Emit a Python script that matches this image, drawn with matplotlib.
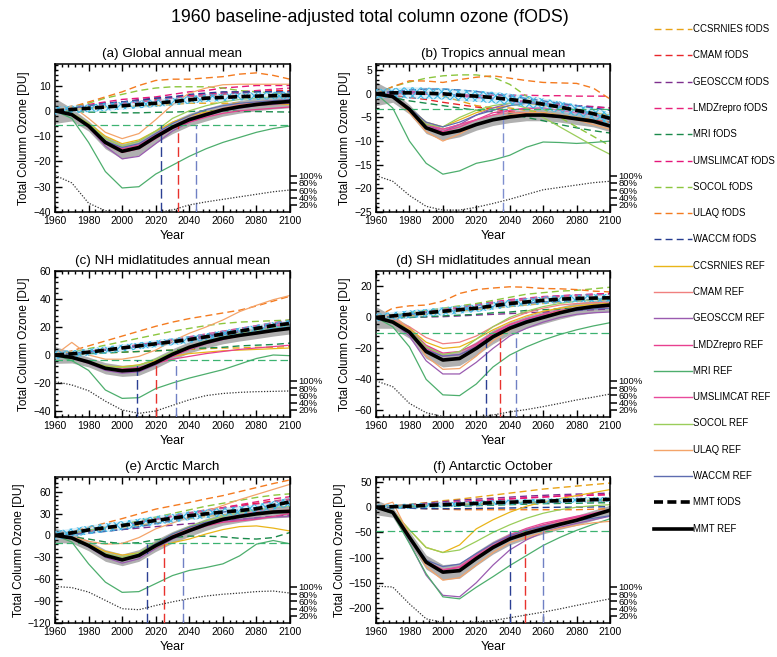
import matplotlib
matplotlib.use('Agg')
import matplotlib.pyplot as plt
from matplotlib.ticker import MultipleLocator

plt.rcParams['font.family'] = ['Liberation Sans', 'DejaVu Sans']
plt.rcParams['hatch.linewidth'] = 0.8

YEARS = [1960, 1970, 1980, 1990, 2000, 2010, 2020, 2030, 2040, 2050, 2060, 2070, 2080, 2090, 2100]
MODELS = ['CCSRNIES', 'CMAM', 'GEOSCCM', 'LMDZrepro', 'MRI', 'UMSLIMCAT', 'SOCOL', 'ULAQ', 'WACCM']
FODS_COLORS = ['#e8a317', '#e8262a', '#7e2f8e', '#e7217a', '#1a8a4b', '#e5157a', '#8cc63e', '#f47b20', '#263d90']
REF_COLORS = ['#e9b519', '#f0807f', '#9a5bb0', '#e8408f', '#4dae6d', '#e84a9b', '#9acd5a', '#f4a46a', '#5e6cb0']
RETURN_COLORS = ['#2b3f93', '#e8322d', '#7080c4']

# (a) global annual mean
GLOBAL_FODS = [
    [0, 0.5, 1, 1.5, 1.5, 2, 2, 2.5, 3, 3, 3, 3, 3, 3, 3],
    [0, 1, 2, 3, 3.5, 4, 4.5, 5, 5.5, 6, 6.5, 7, 7.5, 8, 8],
    [0, 1, 2, 3, 3.5, 4.5, 5, 5.5, 6, 6.5, 7, 7, 7.5, 7.5, 7.5],
    [0, 1, 2, 2.5, 3, 3.5, 4, 5, 6, 6.5, 7, 7.5, 8, 8.5, 9],
    [0, -0.3, -0.5, -0.6, -0.8, -0.8, -0.6, -0.5, -0.3, 0, 0, -0.2, -0.3, -0.4, -0.5],
    [0, 1.5, 2.5, 3.5, 4.5, 5, 5.5, 6.5, 7.5, 8, 9, 9.5, 10, 10, 10],
    [0, 1.5, 3, 5, 6.5, 8, 9, 9.5, 9.5, 9.5, 9, 8, 7.5, 7, 6.5],
    [0, 1.5, 3.5, 5.5, 7.5, 10, 12, 12.5, 12.5, 13, 13.5, 14.5, 15, 14, 12.5],
    [0, 1, 2, 3, 3.5, 4, 5, 5.5, 6.5, 7, 7.5, 7.5, 7.5, 7.5, 7.5],
]
GLOBAL_REF = [
    [0, -1, -5, -10, -13, -11.5, -8, -4.5, -2, -0.5, 0.5, 1.5, 2, 2.5, 2.5],
    [0, -1.5, -6, -12.5, -15.5, -14, -10, -6.5, -3.5, -1, 1, 2.5, 3.5, 4, 4.5],
    [0, -1.5, -6.5, -14, -19, -18, -13, -8, -4.5, -2, 0, 1, 2, 2.5, 3],
    [0, -1.5, -6.5, -13, -16.5, -15, -11, -7, -4.5, -2.5, -1, 0, 0.5, 1, 1.5],
    [0, -3, -12.5, -24, -30.5, -30, -25, -21.5, -18, -15, -12.5, -10.5, -8.5, -7, -6],
    [0, -1.5, -6, -12, -15, -13.5, -9.5, -6, -3, -1, 0.5, 1.5, 2.5, 3, 3.5],
    [0, -1, -5, -11, -14, -12, -8, -3, 0, 2, 3.5, 4.5, 5, 5.5, 6],
    [0, 2, -3, -8.5, -11, -9, -3.5, 2.4, 7, 9, 10.3, 10.5, 10.5, 10.5, 10.5],
    [0, -1.5, -6, -12, -14.5, -13, -9, -5, -2, 0.5, 2, 3, 3.5, 4, 4.5],
]
GLOBAL_MMT_REF = [0, -1.5, -6, -12.5, -16, -14.5, -10.3, -6.5, -3.5, -1.5, 0.4, 1.6, 2.5, 3.2, 3.7]
GLOBAL_SD_REF = [5, 2.5, 2, 2.5, 3, 3, 2.5, 2.5, 2.5, 2.5, 2.5, 2.5, 2.5, 2.5, 2.5]
GLOBAL_MMT_FODS = [0, 0.5, 1, 1.5, 2, 2.5, 3, 3.6, 4.3, 5, 5.3, 5.6, 5.8, 6, 6.1]
GLOBAL_SD_FODS = [1.5, 1.5, 1.5, 1.5, 1.5, 1.5, 1.5, 1.5, 1.5, 1.5, 1.5, 1.5, 1.5, 1.5, 1.5]
GLOBAL_EESC = [-25.5, -28.5, -36.5, -39.5, -40.3, -40.5, -40.3, -39.2, -37.2, -36, -35, -34, -33, -32, -31.3]
GLOBAL_LEVEL = -5.6
GLOBAL_RETURN = [2023, 2033, 2044]

# (b) tropics annual mean
TROPICS_FODS = [
    [0, 0.3, 0.5, 0.3, -0.5, -1.5, -2.5, -3, -3, -3.5, -4, -4.5, -5, -5.5, -6],
    [0, -0.3, -0.8, -1.2, -1.8, -2.3, -2.8, -3.2, -3.8, -4.2, -4.6, -5, -5.3, -5.5, -6],
    [0, 0.3, 0.3, 0.2, 0, -0.3, -0.6, -1, -1.4, -1.8, -2, -2.2, -2.5, -2.7, -3],
    [0, 0, 0, -0.1, -0.2, -0.2, -0.3, -0.3, -0.3, -0.3, -0.4, -0.4, -0.5, -0.5, -0.5],
    [0, -0.8, -1.5, -2, -2.5, -3, -3.5, -3.8, -4.2, -5, -5.7, -6.5, -7.2, -7.8, -8.3],
    [0, 0.5, 0.5, 0.3, 0, -0.5, -0.8, -1, -1.3, -1.6, -2, -2.3, -2.5, -2.8, -3],
    [0, 1.5, 2.5, 3.3, 3.8, 4, 4, 3.5, 2, -0.5, -3.2, -5, -7, -9, -11],
    [0, 1.5, 2.75, 2.7, 2.4, 3, 3.5, 3.8, 3.3, 2.8, 2.4, 2.3, 2.2, 1.2, -1.1],
    [0, 0.5, 0.8, 1, 1, 0.8, 0.5, 0, -0.5, -1, -1.5, -2, -2.5, -3, -3.5],
]
TROPICS_REF = [
    [0, -0.5, -3, -6, -7, -5.5, -4, -3, -2.5, -2, -2.5, -3, -3.5, -4, -4.5],
    [0, -0.5, -3, -6.5, -7.5, -6.5, -5.5, -4.5, -4, -4, -4.5, -5, -5.5, -6, -7],
    [0, -0.5, -3, -6.5, -8, -6.5, -4.5, -3, -2, -1.8, -2, -2.5, -3.5, -4.5, -5.5],
    [0, -0.5, -3.5, -7, -8, -7, -5.5, -4, -3.5, -3.2, -3, -3.5, -4, -4.5, -5],
    [0, -3, -10, -14.7, -17, -16.3, -14.7, -14, -13, -11.3, -10.2, -10.3, -10.5, -10.3, -10],
    [0, -0.5, -3, -6.5, -7.5, -6.5, -5.5, -4.5, -3.5, -3, -3, -3.5, -4, -4.5, -5.5],
    [0, -0.5, -3, -6.5, -7, -5, -3.5, -2.5, -2, -3, -5, -7, -9, -11, -12.8],
    [0, -0.5, -4, -8, -10, -8.5, -6.5, -5.5, -4.5, -4, -4, -4.5, -5.5, -6.5, -7.5],
    [0, -0.5, -3, -6, -7, -6, -4.5, -3.5, -2.5, -2, -2.2, -2.8, -3.5, -4.2, -5],
]
TROPICS_MMT_REF = [0, -0.6, -3.3, -7.2, -8.5, -7.8, -6.5, -5.5, -4.9, -4.5, -4.5, -4.8, -5.3, -5.8, -6.8]
TROPICS_SD_REF = [2.5, 1.2, 1, 1.2, 1.3, 1.3, 1.2, 1.2, 1.2, 1.2, 1.2, 1.2, 1.2, 1.2, 1.2]
TROPICS_MMT_FODS = [0, 0.2, 0.2, 0.1, 0, -0.3, -0.5, -0.8, -1.2, -1.6, -2.2, -2.8, -3.5, -4.2, -5.2]
TROPICS_SD_FODS = [1, 1, 1.2, 1.2, 1.2, 1.2, 1.2, 1.2, 1.2, 1.2, 1.2, 1.2, 1.2, 1.2, 1.2]
TROPICS_EESC = [-17.3, -18.5, -21.5, -23.8, -24.6, -24.6, -24, -23.2, -22.3, -21.3, -20.3, -19.8, -19.3, -18.8, -18.5]
TROPICS_LEVEL = -3.2
TROPICS_RETURN = [None, None, 2036]

# (c) NH midlatitudes annual mean
NHMID_FODS = [
    [0, 0.5, 1, 1.5, 2, 2.5, 3, 3.5, 4, 4.5, 5, 5, 5.5, 5.5, 6],
    [0, 1, 2.5, 4, 5.5, 7, 8.5, 10, 11.5, 13.5, 15.5, 17.5, 19.5, 21.5, 23],
    [0, 1, 2.5, 3.5, 5, 6.5, 8, 10, 12, 14, 16, 18, 20, 22, 24],
    [0, 1, 2.5, 4, 5.5, 7.5, 9, 11, 13, 15, 17, 19, 21, 23, 25],
    [0, 0.5, 1, 1.5, 2, 2.5, 3, 3.5, 4.5, 5, 5.5, 6.5, 7, 7.5, 8.5],
    [0, 1, 2, 3.5, 5, 6, 7.5, 9, 10.5, 12.5, 14.5, 16.5, 18.5, 20.5, 22],
    [0, 2, 4.5, 7, 9.5, 12, 14.5, 17, 19, 21, 22.5, 23.5, 24, 24.5, 25],
    [0, 3, 6.5, 10, 13.5, 17, 20.5, 23.5, 26, 28, 30, 32, 35, 38.5, 42],
    [0, 1, 2, 3.5, 5, 6.5, 8, 9.5, 11, 13, 15, 16.5, 18, 19.5, 21],
]
NHMID_REF = [
    [0, -1.5, -5, -8, -8.5, -7, -4, -1, 1, 2, 3, 3.5, 4, 4.5, 5],
    [0, -2, -6, -10, -12, -11, -6.5, -1, 4, 8, 11, 13.5, 16, 18, 20],
    [0, -2, -6, -11, -13, -12, -7, -1, 4, 8, 11, 14, 16, 18, 20],
    [0, -1.5, -5.5, -9, -10, -9, -6, -3, -1, 1, 2.5, 4, 5, 6, 7],
    [0, -4, -11, -25, -31, -30.5, -24, -20, -16.5, -13.5, -10.5, -6.5, -2.5, 0, -0.5],
    [0, -1.5, -5, -9.5, -11, -10, -6, -1, 4, 8.5, 12, 15, 18, 21, 24],
    [0, -1.5, -5, -8, -9, -7.5, -3, 2, 6, 10, 13, 15.5, 17.5, 19.5, 21],
    [0, 9, 0, -3, -3, -1, 3.5, 10, 15.5, 20, 25, 31, 35.5, 39.5, 42.5],
    [0, -2, -5.5, -9.5, -11, -10, -5.5, 0, 5, 9, 12, 14.5, 16.5, 18.5, 20],
]
NHMID_MMT_REF = [0, -1.7, -5, -9.5, -11.3, -10.5, -5.5, 0.5, 5.5, 9, 12, 14, 15.7, 17.5, 19]
NHMID_SD_REF = [6, 4, 3.5, 4, 4, 4, 4, 4, 4, 4, 4, 4, 4, 4, 4]
NHMID_MMT_FODS = [0, 0.8, 2, 3.5, 5, 6.5, 8, 9.5, 11, 13, 15, 17, 19, 21, 22.5]
NHMID_SD_FODS = [3, 2.5, 2.5, 2.5, 2.5, 2.5, 2.5, 2.5, 2.5, 2.5, 2.5, 2.5, 2.5, 2.5, 2.5]
NHMID_EESC = [-19, -21.4, -25.5, -33, -39.3, -41.7, -40, -36, -32, -29, -27.5, -26.7, -26.2, -26, -25.7]
NHMID_LEVEL = -3.8
NHMID_RETURN = [2009, 2020, 2032]

# (d) SH midlatitudes annual mean
SHMID_FODS = [
    [0, 0.5, 1, 2, 3, 4, 5, 6, 7, 8, 9, 10, 10.5, 11, 11.5],
    [0, 1, 2, 3.5, 5, 6, 7.5, 9, 10, 11.5, 12.5, 13.5, 14, 14.5, 15],
    [0, 0, 0, 0.3, 0.5, 1, 1.5, 2, 2.5, 3, 3.5, 4, 4.5, 5, 5.5],
    [0, 1, 2.5, 4, 5.5, 7, 8.5, 10, 11.5, 12.5, 13.5, 14, 14.5, 15, 15.5],
    [0, 0, 0, 0.5, 1, 1.5, 2, 3, 3.5, 4.5, 5, 5.5, 6, 6.5, 7],
    [0, 1, 2.5, 4, 5, 6.5, 8, 9.5, 11, 12, 13, 14, 14.5, 15, 15.5],
    [0, 1.5, 3, 4.5, 6, 7.5, 9, 11, 13, 15, 16, 17, 17.5, 18.5, 19.5],
    [0, 6, 7.5, 8, 10.5, 15.5, 18, 19, 19.8, 19.5, 18.7, 18.5, 18, 17, 16.5],
    [0, 1, 2, 3, 4, 5, 6, 7, 8, 9, 10, 10.5, 11, 11.5, 12],
]
SHMID_REF = [
    [0, -2, -7, -16, -20, -19, -14, -8, -3, 1, 4, 6, 7.5, 8.5, 9],
    [0, -1.5, -6, -13, -17, -16, -12, -6, -1, 3, 6, 8, 9, 9.5, 10],
    [0, -3, -12, -28, -36.5, -36.5, -29, -20, -12, -7, -3, 0, 2, 3, 3.5],
    [0, -2, -8, -18, -23, -22, -17, -10, -4.5, -1, 2, 4, 5.5, 6.5, 7],
    [0, -6, -19, -40, -50, -50.5, -43, -32, -24.3, -19, -14.6, -11, -8, -5.5, -3.4],
    [0, -2.5, -9, -20, -25, -24, -18, -11, -5, -1, 2, 4.5, 6, 7, 7.5],
    [0, -2, -8, -19, -24, -22, -14, -6, 0, 4, 7, 9, 10.5, 11.5, 12],
    [0, 2, -8, -25, -33.5, -33, -25, -15, -8, -3, 1, 4, 6, 7, 7.5],
    [0, -2.5, -9, -21, -25, -24, -19, -12, -6, -2, 1, 3, 4.5, 5.5, 6],
]
SHMID_MMT_REF = [0, -3, -9.5, -22, -27.5, -26.5, -20, -12.5, -7, -3, 0, 3, 5.5, 7, 8]
SHMID_SD_REF = [7, 4, 4, 4.5, 4.5, 4.5, 4.5, 4.5, 4, 4, 4, 4, 4, 4, 4]
SHMID_MMT_FODS = [0, 1, 2, 3, 4, 5, 6, 7.5, 9, 10, 11, 11.8, 12.3, 12.5, 12.7]
SHMID_SD_FODS = [2.5, 2.5, 2.5, 2.5, 2.5, 2.5, 2.5, 2.5, 2.5, 2.5, 2.5, 2.5, 2.5, 2.5, 2.5]
SHMID_EESC = [-41, -44.7, -55.5, -61.5, -64, -64.3, -64.3, -63, -61, -59.5, -57.6, -55.5, -53.3, -51.5, -49.5]
SHMID_LEVEL = -10
SHMID_RETURN = [2026, 2034, 2044]

# (e) Arctic March
ARCTIC_FODS = [
    [0, 2, 5, 8, 11, 14, 17, 20, 23, 26, 28, 30, 32, 33, 34],
    [0, 3, 7, 11, 15, 19, 23, 27, 31, 35, 38, 41, 44, 47, 50],
    [0, 2, 4, 6, 8, 10, 12, 14, 16, 18, 20, 22, 24, 26, 28],
    [0, 3, 6, 10, 14, 18, 22, 26, 30, 34, 38, 42, 46, 50, 53],
    [0, -2, -5, -9, -11, -10, -6, -3, -1, -1, -2, -4, -5, -3, 4],
    [0, 3, 6.5, 10.5, 14, 18, 22, 26, 30, 34, 37, 40, 43, 46, 49],
    [0, 3, 7, 11, 15, 20, 25, 30, 35, 40, 44, 48, 52, 55, 57],
    [0, 5.5, 11, 17, 23, 29.5, 36, 40.5, 45, 50, 54.5, 60, 65.5, 71, 76],
    [0, 1, 3, 5.5, 8, 12, 16, 20, 24, 28, 32, 35, 38, 41, 44],
]
ARCTIC_REF = [
    [0, -3, -12, -22, -27, -24, -17, -10, -5, 2, 8, 12, 13, 10, 6],
    [0, -3, -13, -26, -32, -26, -12, 0, 9, 17, 23, 27, 30, 33, 35],
    [0, -4, -16, -30, -38, -32, -18, -5, 5, 13, 19, 22, 24, 25, 26],
    [0, -3.5, -14, -28, -34, -28, -15, -3, 6, 13, 18, 20, 22, 26, 30],
    [0, -9, -39, -64, -78, -77, -66, -55, -48, -44, -39, -28, -12, -7, -11.5],
    [0, -3, -14, -28, -34, -28, -14, -1, 8, 16, 23, 28, 33, 37, 40],
    [0, -3, -13, -25, -30, -24, -10, 2, 12, 20, 26, 31, 35, 38, 40],
    [0, -2, -8, -12, -11, -3, 9, 17, 25, 33, 41, 49, 56, 63, 70],
    [0, -4, -15, -29, -33, -26, -11, 2, 11, 18, 23, 26, 29, 32, 34],
]
ARCTIC_MMT_REF = [0, -3.5, -14, -27.5, -33.5, -27.5, -14, -2.5, 6.5, 15, 22, 26, 29.5, 32, 33]
ARCTIC_SD_REF = [10, 7, 7, 8, 8, 8, 8, 8, 8, 8, 8, 8, 8, 8, 8]
ARCTIC_MMT_FODS = [0, 3.5, 7.5, 10.5, 13.5, 17, 20.5, 23.5, 27, 29.5, 32, 34, 36.5, 41, 46]
ARCTIC_SD_FODS = [6, 6, 6, 6, 6, 6, 6, 6, 6, 6, 6, 6, 6, 6, 6]
ARCTIC_EESC = [-70, -71.5, -77.6, -89, -100.4, -101.8, -96, -91, -86.6, -83, -80.6, -79, -77, -76.2, -79]
ARCTIC_LEVEL = -10
ARCTIC_RETURN = [2015, 2025, 2036]

# (f) Antarctic October
ANTARCTIC_FODS = [
    [0, 3, 6, 9, 13, 16, 20, 24, 28, 32, 36, 39, 42, 45, 48],
    [0, 1, 2, 3, 4, 5, 6, 7, 8, 9, 10, 11, 12, 12.5, 13],
    [0, 2, 5, 8, 11, 14, 16, 18, 20, 22, 23.5, 25, 26, 27, 28],
    [0, 2, 4, 6, 8, 10, 12, 14, 16, 18, 20, 22, 23, 24, 25],
    [0, 0, 0.5, 1, 1.5, 2, 3, 4, 5, 6, 7, 7.5, 8, 8.5, 9],
    [0, 2, 4, 6, 8.5, 11, 13, 15, 17, 19, 20.5, 22, 23, 24, 25],
    [0, 1, 3, 4, 5, 6, 7, 8, 9, 10, 11, 12, 13, 14, 15],
    [0, -1, -2, -3, -4, -5, -5, -5, -5, -5, -5, -5, -5, -4, -3],
    [0, -1, -2, -3, -3, -3, -2.5, -2, -1.5, -1, -0.5, 0, 0, 0.5, 1],
]
ANTARCTIC_REF = [
    [0, -8, -45, -80, -90, -75, -43, -25, -10, 2, 10, 17, 23, 29, 35],
    [0, -10, -62, -112, -130, -125, -100, -78, -60, -48, -38, -30, -22, -15, -8],
    [0, -12, -70, -135, -175, -178, -150, -115, -85, -65, -50, -40, -32, -25, -18],
    [0, -10, -60, -108, -124, -120, -98, -76, -58, -45, -35, -27, -20, -13, -6],
    [0, -13, -72, -132, -178, -182, -159, -138, -116, -96, -76, -60, -46, -34, -23],
    [0, -10, -60, -110, -125, -118, -95, -72, -55, -42, -32, -25, -18, -12, -5],
    [0, -8, -45, -80, -90, -85, -68, -50, -35, -22, -12, -5, 0, 3, 5],
    [0, 10, -55, -118, -145, -140, -115, -90, -70, -60, -50, -42, -36, -31, -28],
    [0, -10, -58, -105, -118, -113, -92, -72, -57, -46, -38, -32, -27, -22, -17],
]
ANTARCTIC_MMT_REF = [0, -10, -60, -109, -129, -126, -102, -80, -63, -52, -43, -34, -26, -16, -6]
ANTARCTIC_SD_REF = [15, 10, 12, 14, 15, 15, 14, 13, 12, 11, 10, 10, 10, 10, 10]
ANTARCTIC_MMT_FODS = [0, 1, 2, 3.5, 5, 6, 7.5, 9, 10, 11, 12, 13, 14, 15, 15.5]
ANTARCTIC_SD_FODS = [5, 5, 5, 5, 5, 5, 5, 5, 5, 5, 5, 5, 5, 5, 5]
ANTARCTIC_EESC = [-156.7, -158.5, -192, -221.7, -229, -230, -228, -225, -219.7, -214, -208.4, -202, -195, -188.5, -182]
ANTARCTIC_LEVEL = -48
ANTARCTIC_RETURN = [2040, 2049, 2060]

W, H = 777, 657
LEFT_COL = (55, 235)
RIGHT_COL = (376, 234)
ROWS = [(64, 148), (271, 146), (477, 146)]

panels = [
    ('(a) Global annual mean', GLOBAL_FODS, GLOBAL_REF, GLOBAL_MMT_FODS, GLOBAL_SD_FODS,
     GLOBAL_MMT_REF, GLOBAL_SD_REF, GLOBAL_EESC, GLOBAL_LEVEL, GLOBAL_RETURN,
     (-40, 18.5), 10, 2, LEFT_COL, ROWS[0]),
    ('(b) Tropics annual mean', TROPICS_FODS, TROPICS_REF, TROPICS_MMT_FODS, TROPICS_SD_FODS,
     TROPICS_MMT_REF, TROPICS_SD_REF, TROPICS_EESC, TROPICS_LEVEL, TROPICS_RETURN,
     (-25, 6.3), 5, 1, RIGHT_COL, ROWS[0]),
    ('(c) NH midlatitudes annual mean', NHMID_FODS, NHMID_REF, NHMID_MMT_FODS, NHMID_SD_FODS,
     NHMID_MMT_REF, NHMID_SD_REF, NHMID_EESC, NHMID_LEVEL, NHMID_RETURN,
     (-44.3, 60), 20, 4, LEFT_COL, ROWS[1]),
    ('(d) SH midlatitudes annual mean', SHMID_FODS, SHMID_REF, SHMID_MMT_FODS, SHMID_SD_FODS,
     SHMID_MMT_REF, SHMID_SD_REF, SHMID_EESC, SHMID_LEVEL, SHMID_RETURN,
     (-64.3, 30), 20, 4, RIGHT_COL, ROWS[1]),
    ('(e) Arctic March', ARCTIC_FODS, ARCTIC_REF, ARCTIC_MMT_FODS, ARCTIC_SD_FODS,
     ARCTIC_MMT_REF, ARCTIC_SD_REF, ARCTIC_EESC, ARCTIC_LEVEL, ARCTIC_RETURN,
     (-120, 80), 30, 6, LEFT_COL, ROWS[2]),
    ('(f) Antarctic October', ANTARCTIC_FODS, ANTARCTIC_REF, ANTARCTIC_MMT_FODS, ANTARCTIC_SD_FODS,
     ANTARCTIC_MMT_REF, ANTARCTIC_SD_REF, ANTARCTIC_EESC, ANTARCTIC_LEVEL, ANTARCTIC_RETURN,
     (-230, 60), 50, 10, RIGHT_COL, ROWS[2]),
]

fig = plt.figure(figsize=(W / 100, H / 100), dpi=100)

for (title, fods, ref, mmt_f, sd_f, mmt_r, sd_r, eesc, level, ret,
     ylim, major, minor, col, row) in panels:
    ax = fig.add_axes([col[0] / W, 1 - (row[0] + row[1]) / H, col[1] / W, row[1] / H])

    lo = [m - s for m, s in zip(mmt_r, sd_r)]
    hi = [m + s for m, s in zip(mmt_r, sd_r)]
    ax.fill_between(YEARS, lo, hi, color='#b0b0b0', lw=0, zorder=1)

    for vals, c in zip(fods, FODS_COLORS):
        ax.plot(YEARS, vals, color=c, lw=1.0, dashes=(5, 3), zorder=2)
    for vals, c in zip(ref, REF_COLORS):
        ax.plot(YEARS, vals, color=c, lw=0.9, zorder=2)

    # multi-model spread of fODS runs: light cyan dotted band
    lo = [m - s for m, s in zip(mmt_f, sd_f)]
    hi = [m + s for m, s in zip(mmt_f, sd_f)]
    ax.fill_between(YEARS, lo, hi, facecolor=(0.55, 0.82, 0.94, 0.35), edgecolor='#3fb8e6',
                    hatch='xxxx', lw=0, zorder=3)

    ax.axhline(level, color='#3cb371', lw=0.9, dashes=(6, 3), zorder=4)
    for yr, c in zip(ret, RETURN_COLORS):
        if yr is None:
            continue
        if None in ret:
            c = '#7f8fcf'
        ax.vlines(yr, ylim[0], level, color=c, lw=1.0, linestyles=(0, (7, 3)), zorder=4)

    ax.plot(YEARS, eesc, color='#333333', lw=0.9, ls=(0, (1, 1.3)), zorder=4)
    ax.plot(YEARS, mmt_r, color='black', lw=2.6, zorder=6)
    ax.plot(YEARS, mmt_f, color='black', lw=2.6, dashes=(2.5, 1.2), zorder=6)

    ax.set_xlim(1960, 2100)
    ax.set_ylim(*ylim)
    ax.xaxis.set_major_locator(MultipleLocator(20))
    ax.xaxis.set_minor_locator(MultipleLocator(4))
    ax.yaxis.set_major_locator(MultipleLocator(major))
    ax.yaxis.set_minor_locator(MultipleLocator(minor))
    ax.tick_params(which='both', direction='in', top=True, right=True,
                   labelsize=7.5, pad=3, width=1)
    ax.tick_params(which='major', length=5)
    ax.tick_params(which='minor', length=2.5)
    for sp in ax.spines.values():
        sp.set_linewidth(1.1)
    ax.set_title(title, fontsize=9.6, pad=5)
    ax.set_xlabel('Year', fontsize=9, labelpad=3)
    ax.set_ylabel('Total Column Ozone [DU]', fontsize=8.5, labelpad=2)

    ax2 = ax.twinx()
    ax2.set_ylim(0, row[1] / 0.3625)
    ax2.set_yticks([20, 40, 60, 80, 100])
    ax2.set_yticklabels(['20%', '40%', '60%', '80%', '100%'])
    ax2.tick_params(direction='out', length=5, width=1.1, labelsize=6.8, pad=1)
    for sp in ax2.spines.values():
        sp.set_visible(False)

fig.text(370 / W, 1 - 18 / H, '1960 baseline-adjusted total column ozone (fODS)',
         ha='center', va='center', fontsize=12.8)

# legend on the right
lax = fig.add_axes([0, 0, 1, 1], facecolor='none')
lax.set_xlim(0, W)
lax.set_ylim(H, 0)
lax.set_axis_off()
labels = [m + ' fODS' for m in MODELS] + [m + ' REF' for m in MODELS] + ['MMT fODS', 'MMT REF']
for i, lab in enumerate(labels):
    y = 29 + 26.3 * i
    if i < 9:
        lax.plot([654, 692], [y, y], color=FODS_COLORS[i], lw=1.0, dashes=(5, 3))
    elif i < 18:
        lax.plot([654, 692], [y, y], color=REF_COLORS[i - 9], lw=1.0)
    elif i == 18:
        lax.plot([654, 692], [y, y], color='black', lw=2.6, dashes=(2.5, 1.2))
    else:
        lax.plot([654, 692], [y, y], color='black', lw=2.6)
    lax.text(693, y, lab, fontsize=6.9, va='center', ha='left')

fig.savefig('out.png', dpi=100)
